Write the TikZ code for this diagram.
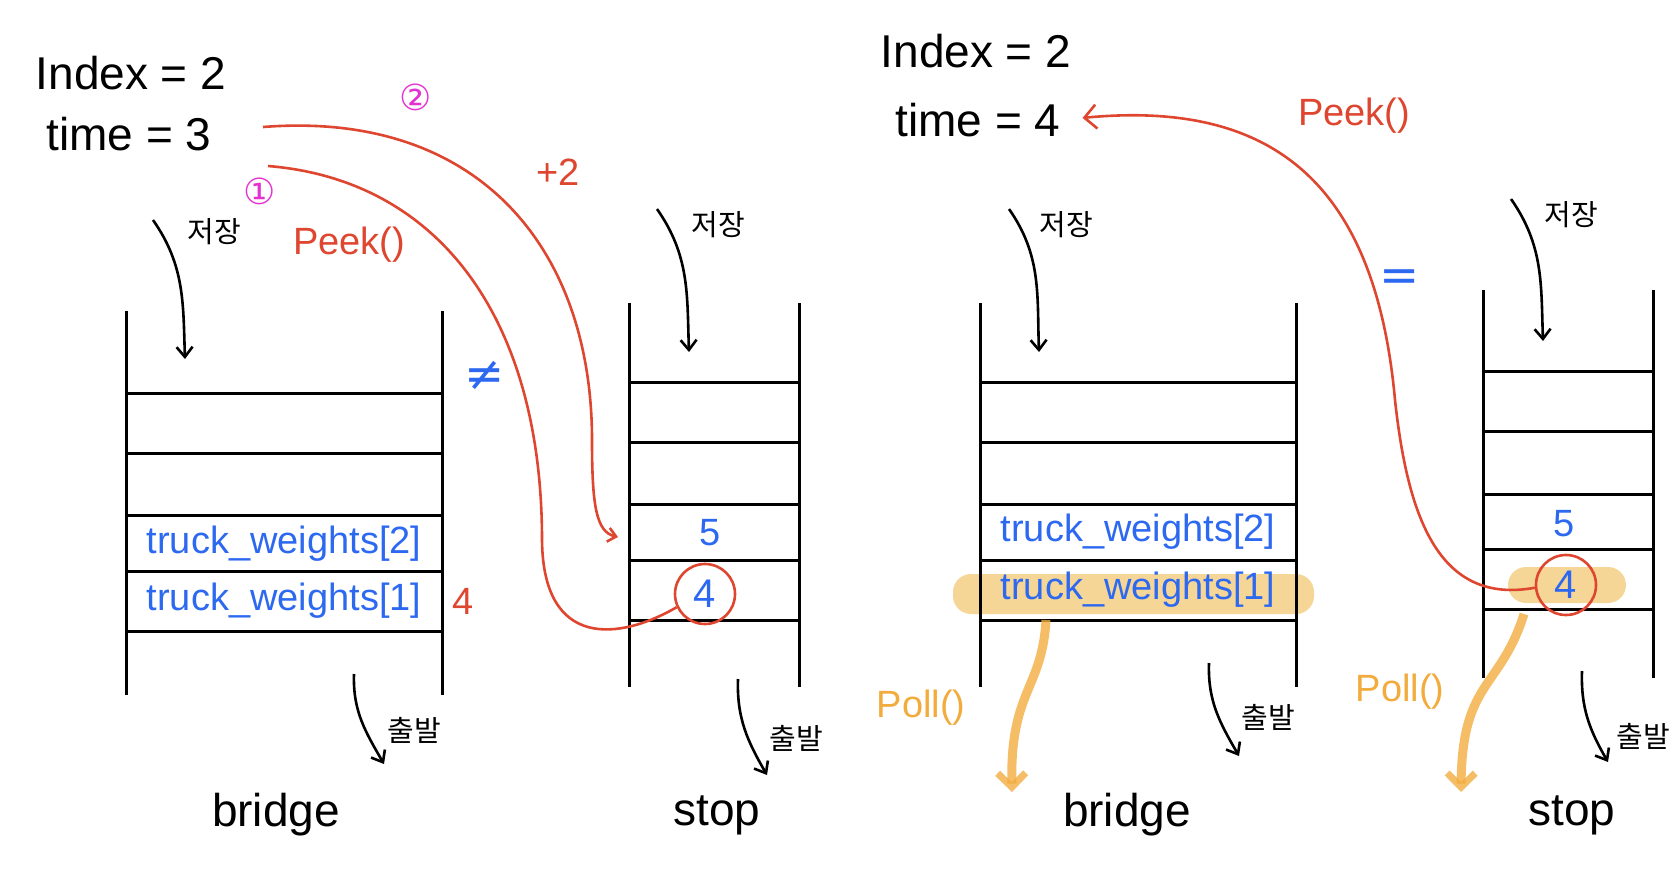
\documentclass[tikz,border=0pt]{standalone}
\usepackage{fontspec}
\setmainfont{Liberation Sans}
\newfontfamily\kr{Noto Sans CJK KR}
\newfontfamily\sym{DejaVu Sans}
\usetikzlibrary{arrows.meta}
\definecolor{penred}{RGB}{222,70,48}
\definecolor{penblue}{RGB}{45,105,240}
\definecolor{penpink}{RGB}{228,50,210}
\definecolor{penorange}{RGB}{242,172,62}
\definecolor{hilite}{RGB}{246,214,150}
\tikzstyle{wall} = [draw=black, line width=3pt]
\tikzstyle{big} = [font=\fontsize{46}{50}\selectfont, inner sep=0pt]
\tikzstyle{cell} = [text=penblue, font=\fontsize{38}{40}\selectfont, inner sep=0pt]
\tikzstyle{kor} = [font=\kr\fontsize{29}{31}\selectfont, inner sep=0pt]
\tikzstyle{redtext} = [text=penred, font=\fontsize{38}{40}\selectfont, inner sep=0pt]
\tikzstyle{polltext} = [text=penorange, font=\fontsize{38}{40}\selectfont, inner sep=0pt]
\tikzstyle{note} = [text=penpink, font=\sym\fontsize{36}{38}\selectfont, inner sep=0pt]
\tikzstyle{relmark} = [text=penblue, font=\sym\fontsize{48}{50}\selectfont, inner sep=0pt]
\tikzstyle{flow} = [line width=2.6pt, -{Straight Barb[length=10pt,width=16pt]}]
\tikzstyle{peek} = [draw=penred, line width=2.6pt]
\tikzstyle{poll} = [draw=penorange, opacity=0.8, line width=9pt, -{Straight Barb[length=14pt,width=28pt,line width=7pt]}]
\tikzstyle{ring} = [circle, draw=penred, line width=2.6pt, minimum size=60pt, inner sep=0pt, text=penblue, font=\fontsize{40}{40}\selectfont]

\begin{document}
\begin{tikzpicture}[x=1pt, y=-1pt]
  \useasboundingbox (0,0) rectangle (1674,873);
  % highlights
  \fill[hilite, rounded corners=18pt] (953,574) rectangle (1314,614);
  \fill[hilite, rounded corners=18pt] (1508,567) rectangle (1626,603);

  % stacks
  \draw[wall] (126,311) -- (126,695) (442,311) -- (442,695);
  \foreach \y in {393,453,515,571,631} \draw[wall] (126,\y) -- (442,\y);
  \draw[wall] (629,303) -- (629,687) (799,303) -- (799,687);
  \foreach \y in {382,442,504,560,620} \draw[wall] (629,\y) -- (799,\y);
  \draw[wall] (980,303) -- (980,687) (1296,303) -- (1296,687);
  \foreach \y in {382,442,504,560,620} \draw[wall] (980,\y) -- (1296,\y);
  \draw[wall] (1483,290) -- (1483,678) (1653,290) -- (1653,678);
  \foreach \y in {371,431,494,549,609} \draw[wall] (1483,\y) -- (1653,\y);

  % cells
  \node (bw2a) [cell] at (284,544) {truck\_weights[2]};
  \node (bw1a) [cell] at (284,601) {truck\_weights[1]};
  \node (bw2b) [cell] at (1138,532) {truck\_weights[2]};
  \node (bw1b) [cell] at (1138,590) {truck\_weights[1]};
  \node (five1) [cell] at (710,533) {5};
  \node (four1) [ring] at (705,594) {4};
  \node (five2) [cell] at (1564,524) {5};
  \node (four2) [ring] at (1566,585) {4};
  \node (wgt) [redtext] at (463,601) {4};

  % state
  \node (idx1) [big] at (131,73) {Index = 2};
  \node (tim1) [big] at (129,134) {time = 3};
  \node (idx2) [big] at (976,51) {Index = 2};
  \node (tim2) [big] at (978,120) {time = 4};

  % names
  \node (br1) [big] at (276,815) {bridge};
  \node (st1) [big] at (717,815) {stop};
  \node (br2) [big] at (1127,815) {bridge};
  \node (st2) [big] at (1572,815) {stop};

  % in / out arrows
  \coordinate (in1a) at (153,220); \coordinate (in1b) at (185,359);
  \coordinate (in2a) at (657,209); \coordinate (in2b) at (689,352);
  \coordinate (in3a) at (1009,209); \coordinate (in3b) at (1039,352);
  \coordinate (in4a) at (1511,199); \coordinate (in4b) at (1543,341);
  \coordinate (out1a) at (354,674); \coordinate (out1b) at (384,764);
  \coordinate (out2a) at (738,679); \coordinate (out2b) at (767,775);
  \coordinate (out3a) at (1209,663); \coordinate (out3b) at (1239,756);
  \coordinate (out4a) at (1582,671); \coordinate (out4b) at (1608,762);
  \draw[flow] (in1a) to[out=-55, in=92] (in1b);
  \draw[flow] (in2a) to[out=-55, in=92] (in2b);
  \draw[flow] (in3a) to[out=-55, in=92] (in3b);
  \draw[flow] (in4a) to[out=-55, in=92] (in4b);
  \draw[flow] (out1a) to[out=-92, in=120] (out1b);
  \draw[flow] (out2a) to[out=-92, in=120] (out2b);
  \draw[flow] (out3a) to[out=-92, in=120] (out3b);
  \draw[flow] (out4a) to[out=-92, in=120] (out4b);
  \node (sv1) [kor] at (214,232) {저장};
  \node (sv2) [kor] at (718,225) {저장};
  \node (sv3) [kor] at (1066,225) {저장};
  \node (sv4) [kor] at (1571,215) {저장};
  \node (go1) [kor] at (414,730) {출발};
  \node (go2) [kor] at (796,738) {출발};
  \node (go3) [kor] at (1268,717) {출발};
  \node (go4) [kor] at (1643,736) {출발};

  % peek lines
  \coordinate (p1) at (268,166);
  \coordinate (p2) at (263,127);
  \coordinate (p2e) at (618,537);
  \draw[peek] (p1) .. controls (440,180) and (542,320) .. (542,540)
    .. controls (543,650) and (620,640) .. (four1.205);
  \draw[peek, -{Straight Barb[length=8pt,width=14pt]}] (p2) .. controls (480,110) and (592,250) .. (592,440)
    .. controls (592,505) and (596,532) .. (p2e);
  \draw[peek, shorten >=22pt, -{Straight Barb[length=12pt,width=24pt]}] (four2.185) .. controls (1440,605) and (1408,520) .. (1395,400)
    .. controls (1375,180) and (1270,100) .. (tim2.east);
  \node (pk1) [redtext] at (349,245) {Peek()};
  \node (pk2) [redtext] at (1354,116) {Peek()};
  \node (plus) [redtext] at (558,172) {+2};
  \node (n1) [note] at (260,191) {①};
  \node (n2) [note] at (416,97) {②};
  \node (neq) [relmark] at (485,376) {≠};
  \node (eq) [relmark] at (1400,281) {=};

  % poll
  \coordinate (pl1a) at (1046,620); \coordinate (pl1b) at (1012,792);
  \coordinate (pl2a) at (1524,614); \coordinate (pl2b) at (1461,792);
  \draw[poll] (pl1a) .. controls (1042,690) and (1010,690) .. (pl1b);
  \draw[poll] (pl2a) .. controls (1500,690) and (1462,680) .. (pl2b);
  \node (pl1) [polltext] at (921,708) {Poll()};
  \node (pl2) [polltext] at (1400,692) {Poll()};
\end{tikzpicture}
\end{document}
